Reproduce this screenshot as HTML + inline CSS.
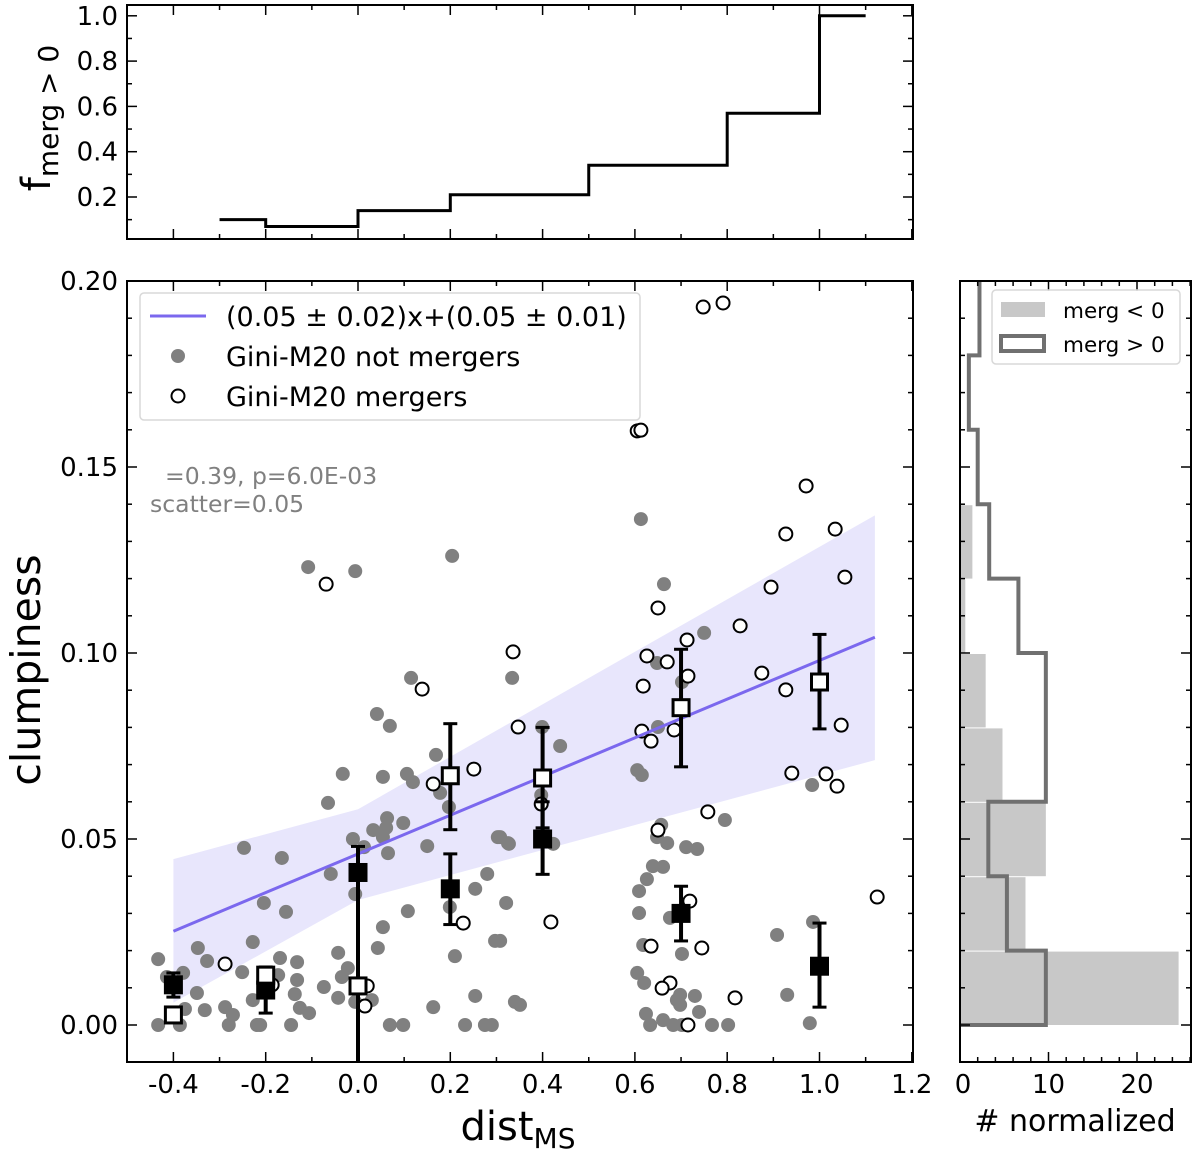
<!DOCTYPE html>
<html><head><meta charset="utf-8"><style>
html,body{margin:0;padding:0;background:#fff;}
svg{display:block;font-family:"DejaVu Sans","Liberation Sans",sans-serif;}
</style></head><body>
<svg id="fig" width="1200" height="1152" viewBox="0 0 1200 1152" xmlns="http://www.w3.org/2000/svg">
<defs>
<clipPath id="clipMain"><rect x="127" y="281" width="786" height="781"/></clipPath>
<clipPath id="clipTop"><rect x="127" y="5" width="786" height="234"/></clipPath>
<clipPath id="clipRight"><rect x="960" y="281" width="231" height="781"/></clipPath>
</defs>
<g id="mainG"></g>
<g id="topG"></g>
<g id="rightG"></g>
</svg>
<script>
// ---- data ----
const grayX=[-0.433,-0.414,-0.379,-0.347,-0.327,-0.349,-0.375,-0.332,-0.433,-0.386,-0.288,-0.271,-0.280,-0.251,-0.228,-0.247,-0.165,-0.204,-0.156,-0.169,-0.132,-0.173,-0.132,-0.137,-0.126,-0.106,-0.145,-0.228,-0.219,-0.212,-0.074,-0.043,-0.043,-0.035,-0.022,-0.006,-0.065,-0.059,-0.011,-0.006,0.013,0.033,0.063,0.061,0.054,0.065,0.098,0.150,-0.033,0.054,0.106,0.119,0.169,0.178,0.197,0.043,0.054,0.108,0.210,0.199,0.254,0.280,0.303,0.325,0.321,0.297,0.254,0.163,0.069,0.098,0.232,0.275,0.290,0.340,0.030,0.334,0.399,0.438,0.327,0.308,0.423,0.397,0.648,0.650,0.605,0.615,0.702,0.750,0.657,0.648,0.670,0.711,0.735,0.639,0.661,0.626,0.609,0.609,0.676,0.618,0.702,0.605,0.620,0.698,0.730,0.691,0.698,0.739,0.624,0.633,0.661,0.683,0.702,0.767,0.802,0.795,0.984,0.908,0.930,0.979,0.986,0.351,0.308,-0.108,-0.006,0.204,0.115,0.041,0.069,0.613,0.663];
const grayY=[0.0177,0.0129,0.0140,0.0207,0.0172,0.0086,0.0043,0.0040,0,0,0.0048,0.0027,0,0.0142,0.0223,0.0476,0.0449,0.0328,0.0304,0.0180,0.0169,0.0134,0.0121,0.0083,0.0046,0.0032,0,0.0067,0,0,0.0102,0.0194,0.0073,0.0129,0.0153,0.0062,0.0597,0.0406,0.0500,0.0352,0.0478,0.0524,0.0556,0.0530,0.0505,0.0462,0.0543,0.0481,0.0675,0.0667,0.0675,0.0653,0.0726,0.0624,0.0586,0.0207,0.0263,0.0306,0.0185,0.0317,0.0366,0.0406,0.0505,0.0489,0.0328,0.0226,0.0078,0.0048,0,0,0,0,0,0.0062,0.0067,0.0933,0.0801,0.0750,0.0487,0.0505,0.0487,0.0618,0.0973,0.0801,0.0685,0.0672,0.0922,0.1054,0.0538,0.0505,0.0489,0.0478,0.0473,0.0427,0.0425,0.0392,0.0360,0.0301,0.0288,0.0215,0.0191,0.0140,0.0113,0.0081,0.0078,0.0067,0.0054,0.0035,0.0030,0,0.0013,0,0,0,0,0.0551,0.0645,0.0242,0.0081,0.0005,0.0277,0.0054,0.0226,0.1231,0.1220,0.1261,0.0933,0.0836,0.0804,0.1360,0.1185];
const mergX=[-0.069,0.139,0.336,0.347,-0.288,-0.186,0.020,0.015,0.163,0.251,0.228,0.650,0.397,0.418,0.626,0.618,0.670,0.713,0.715,0.615,0.635,0.685,0.828,0.875,0.927,1.047,0.940,1.014,1.038,0.758,0.650,0.719,0.635,0.745,0.676,0.659,0.817,0.715,1.125,0.748,0.791,0.605,0.613,0.971,0.927,1.034,1.055,0.895];
const mergY=[0.1185,0.0903,0.1003,0.0801,0.0164,0.0108,0.0105,0.0051,0.0648,0.0688,0.0274,0.1121,0.0594,0.0277,0.0992,0.0911,0.0976,0.1035,0.0938,0.0790,0.0763,0.0793,0.1073,0.0946,0.0901,0.0806,0.0677,0.0675,0.0642,0.0573,0.0524,0.0333,0.0212,0.0207,0.0113,0.0099,0.0073,0,0.0344,0.1930,0.1941,0.1597,0.1599,0.1449,0.1320,0.1333,0.1204,0.1177];
const binX=[-0.4,-0.2,0.0,0.2,0.4,0.7,1.0];
const blackMed=[0.0108,0.0094,0.041,0.0366,0.050,0.030,0.0158];
const blackLo=[0.0075,0.0032,-0.02,0.027,0.0405,0.0226,0.0048];
const blackHi=[0.0140,0.0156,0.048,0.046,0.060,0.0373,0.0274];
const whiteMed=[0.0027,0.0134,0.0105,0.067,0.0664,0.0853,0.0922];
const whiteLo=[0.0027,0.0134,0.0105,0.0525,0.053,0.0694,0.0796];
const whiteHi=[0.0027,0.0134,0.0105,0.081,0.080,0.101,0.105];
const fitSlope=0.052, fitIntercept=0.046;
const fitRange=[-0.4,1.12];
const bandLeftX=[-0.4,0.0], bandLeftLo=[0.006,0.0336], bandLeftHi=[0.0446,0.058];
const bandRightX=[0.0,1.12], bandRightLo=[0.0336,0.0712], bandRightHi=[0.058,0.137];
const fracEdges=[-0.3,-0.2,0.0,0.2,0.5,0.8,1.0,1.1];
const fracVals=[0.10,0.07,0.14,0.21,0.34,0.57,1.0];
const histEdges=[0,0.02,0.04,0.06,0.08,0.10,0.12,0.14,0.16,0.18,0.20,0.22];
const histNeg=[24.7,7.4,9.7,4.8,2.9,0.6,1.4,0,0,0,0];
const histPos=[9.7,5.3,3.2,9.7,9.7,6.6,3.3,2.0,1.0,2.2,2.2];
const xTicks=["-0.4","-0.2","0.0","0.2","0.4","0.6","0.8","1.0","1.2"];
const yTicks=["0.00","0.05","0.10","0.15","0.20"];
const fTicks=["0.2","0.4","0.6","0.8","1.0"];
const hTicks=["0","10","20"];

// ---- scales ----
const X=v=>358+v*461.5;
const Y=v=>1025-v*3720;
const Yt=v=>197-(v-0.2)*226.5;
const Xr=v=>960+v*8.85;
const NS="http://www.w3.org/2000/svg";
const TF=26;
function mk(tag,attrs,parent){const e=document.createElementNS(NS,tag);for(const k in attrs)e.setAttribute(k,attrs[k]);parent.appendChild(e);return e;}
const mainG=document.getElementById('mainG'), topG=document.getElementById('topG'), rightG=document.getElementById('rightG');

// ---- main panel ----
const clipM=mk('g',{'clip-path':'url(#clipMain)'},mainG);
[[bandLeftX,bandLeftLo,bandLeftHi],[bandRightX,bandRightLo,bandRightHi]].forEach((b,i)=>{
  const pts=b[0].map((x,j)=>X(x)+','+Y(b[2][j])).concat(b[0].slice().reverse().map((x,j)=>X(x)+','+Y(b[1][b[0].length-1-j])));
  const p=mk('polygon',{points:pts.join(' '),fill:'#e8e6fc'},clipM);
  
  
});
grayX.forEach((x,i)=>{
  const c=mk('circle',{cx:X(x),cy:Y(grayY[i]),r:7,fill:'#808080'},clipM);
  
  
});
mergX.forEach((x,i)=>{
  const c=mk('circle',{cx:X(x),cy:Y(mergY[i]),r:6.5,fill:'#fff',stroke:'#000','stroke-width':2},clipM);
  
  
});
const fl=mk('line',{x1:X(fitRange[0]),y1:Y(fitSlope*fitRange[0]+fitIntercept),x2:X(fitRange[1]),y2:Y(fitSlope*fitRange[1]+fitIntercept),stroke:'#7b68ee','stroke-width':3},clipM);


function errbar(x,lo,hi,med,fill){
  const g=mk('g',{},clipM);
  mk('line',{x1:X(x),x2:X(x),y1:Y(lo),y2:Y(hi),stroke:'#000','stroke-width':4},g);
  mk('line',{x1:X(x)-7,x2:X(x)+7,y1:Y(lo),y2:Y(lo),stroke:'#000','stroke-width':3},g);
  mk('line',{x1:X(x)-7,x2:X(x)+7,y1:Y(hi),y2:Y(hi),stroke:'#000','stroke-width':3},g);
  mk('rect',{x:X(x)-8,y:Y(med)-8,width:16,height:16,fill:fill,stroke:'#000','stroke-width':3},g);
  return g;
}
binX.forEach((x,i)=>{
  const g=errbar(x,blackLo[i],blackHi[i],blackMed[i],'#000');
  
  
});
binX.forEach((x,i)=>{
  const g=errbar(x,whiteLo[i],whiteHi[i],whiteMed[i],'#fff');
  
  
});
mk('rect',{x:127,y:281,width:786,height:781,fill:'none',stroke:'#000','stroke-width':2},mainG);
for(let k=-5;k<=12;k++){const v=k/10,px=X(v),L=(k%2===0)?10:5;
  mk('line',{x1:px,x2:px,y1:1062,y2:1062-L,stroke:'#000','stroke-width':1.5},mainG);
  mk('line',{x1:px,x2:px,y1:281,y2:281+L,stroke:'#000','stroke-width':1.5},mainG);}
for(let k=-1;k<=20;k++){const v=k/100,py=Y(v),L=(k%5===0)?10:5;
  mk('line',{x1:127,x2:127+L,y1:py,y2:py,stroke:'#000','stroke-width':1.5},mainG);
  mk('line',{x1:913,x2:913-L,y1:py,y2:py,stroke:'#000','stroke-width':1.5},mainG);}
xTicks.forEach(t=>{const e=mk('text',{x:X(parseFloat(t)),y:1093,'font-size':TF,'text-anchor':'middle'},mainG);e.textContent=t;
  
  });
yTicks.forEach(t=>{const e=mk('text',{x:118,y:Y(parseFloat(t))+9,'font-size':TF,'text-anchor':'end'},mainG);e.textContent=t;
  
  });

// ---- top panel ----
const clipT=mk('g',{'clip-path':'url(#clipTop)'},topG);
let d='';
fracVals.forEach((v,i)=>{d+=(i===0?'M':'L')+X(fracEdges[i])+','+Yt(v)+' L'+X(fracEdges[i+1])+','+Yt(v)+' ';});
const st=mk('path',{d:d,fill:'none',stroke:'#000','stroke-width':3},clipT);


mk('rect',{x:127,y:5,width:786,height:234,fill:'none',stroke:'#000','stroke-width':2},topG);
for(let k=-5;k<=12;k++){const px=X(k/10),L=(k%2===0)?10:5;
  mk('line',{x1:px,x2:px,y1:239,y2:239-L,stroke:'#000','stroke-width':1.5},topG);
  mk('line',{x1:px,x2:px,y1:5,y2:5+L,stroke:'#000','stroke-width':1.5},topG);}
for(let k=1;k<=10;k++){const py=Yt(k/10),L=(k%2===0)?10:5;
  mk('line',{x1:127,x2:127+L,y1:py,y2:py,stroke:'#000','stroke-width':1.5},topG);
  mk('line',{x1:913,x2:913-L,y1:py,y2:py,stroke:'#000','stroke-width':1.5},topG);}
fTicks.forEach(t=>{const e=mk('text',{x:118,y:Yt(parseFloat(t))+9,'font-size':TF,'text-anchor':'end'},topG);e.textContent=t;
  
  });

// ---- right panel ----
const clipR=mk('g',{'clip-path':'url(#clipRight)'},rightG);
histNeg.forEach((v,i)=>{if(v<=0)return;
  const r=mk('rect',{x:Xr(0),y:Y(histEdges[i+1])+1,width:Xr(v)-Xr(0),height:Y(histEdges[i])-Y(histEdges[i+1])-1,fill:'#c8c8c8'},clipR);
  
  });
let dh='M'+Xr(0)+','+Y(histEdges[0]);
histPos.forEach((v,i)=>{dh+=' L'+Xr(v)+','+Y(histEdges[i])+' L'+Xr(v)+','+Y(histEdges[i+1]);});
const hp=mk('path',{d:dh,fill:'none',stroke:'#707070','stroke-width':4},clipR);


mk('rect',{x:960,y:281,width:231,height:781,fill:'none',stroke:'#000','stroke-width':2},rightG);
for(let k=0;k<=26;k+=2){const px=Xr(k),L=(k%10===0)?10:5;
  mk('line',{x1:px,x2:px,y1:1062,y2:1062-L,stroke:'#000','stroke-width':1.5},rightG);
  mk('line',{x1:px,x2:px,y1:281,y2:281+L,stroke:'#000','stroke-width':1.5},rightG);}
for(let k=-1;k<=20;k++){const py=Y(k/100),L=(k%5===0)?10:5;
  mk('line',{x1:960,x2:960+L,y1:py,y2:py,stroke:'#000','stroke-width':1.5},rightG);
  mk('line',{x1:1191,x2:1191-L,y1:py,y2:py,stroke:'#000','stroke-width':1.5},rightG);}
hTicks.forEach(t=>{const e=mk('text',{x:Xr(parseFloat(t))+(t==='0'?3:0),y:1093,'font-size':TF,'text-anchor':'middle'},rightG);e.textContent=t;
  
  });
</script>
<svg width="1200" height="1152" style="position:absolute;left:0;top:0;font-family:'DejaVu Sans','Liberation Sans',sans-serif">
<g>
<rect x="140" y="293" width="500" height="127" rx="4" fill="#fff" fill-opacity="0.8" stroke="#d8d8d8" stroke-width="1.5"/>
<line x1="150" y1="316" x2="206" y2="316" stroke="#7b68ee" stroke-width="3"/>
<text x="226" y="326" font-size="27">(0.05 ± 0.02)x+(0.05 ± 0.01)</text>
<circle cx="178" cy="356" r="7" fill="#808080"/>
<text x="226" y="366" font-size="27">Gini-M20 not mergers</text>
<circle cx="178" cy="396" r="6.5" fill="#fff" stroke="#000" stroke-width="2"/>
<text x="226" y="406" font-size="27">Gini-M20 mergers</text>
</g>
<text x="165" y="484" font-size="23.5" fill="#808080">=0.39, p=6.0E-03</text>
<text x="150" y="512" font-size="23.5" fill="#808080">scatter=0.05</text>
<g>
<rect x="992" y="290" width="188" height="74" rx="4" fill="#fff" fill-opacity="0.8" stroke="#d8d8d8" stroke-width="1.5"/>
<rect x="1001" y="302" width="44" height="15" fill="#c8c8c8"/>
<text x="1063" y="318" font-size="21.5">merg  &lt; 0</text>
<rect x="1001" y="336" width="43" height="15" fill="none" stroke="#707070" stroke-width="4"/>
<text x="1063" y="352" font-size="21.5">merg  &gt; 0</text>
</g>
<text transform="translate(40,670) rotate(-90)" text-anchor="middle" font-size="41">clumpiness</text>
<text x="518" y="1140" text-anchor="middle" font-size="40">dist<tspan font-size="28" dy="8">MS</tspan></text>
<text transform="translate(50,118) rotate(-90)" text-anchor="middle" font-size="40">f<tspan font-size="28" dy="8">merg &gt; 0</tspan></text>
<text x="1075" y="1131" text-anchor="middle" font-size="30"># normalized</text>
</svg>
</body></html>
